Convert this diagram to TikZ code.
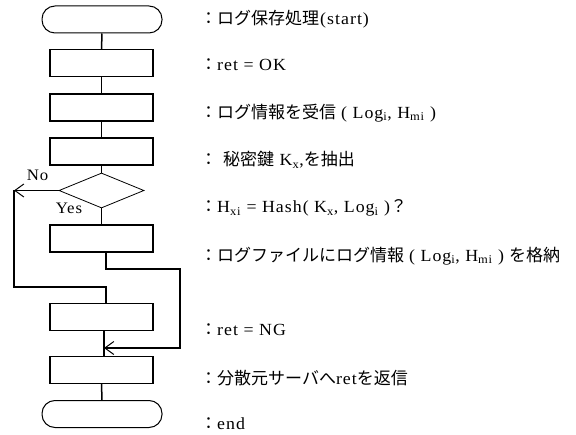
\documentclass[tikz,border=0pt]{standalone}
\usepackage{fontspec}
\setmainfont{Liberation Serif}[FakeStretch=1.05,LetterSpace=6]
\newfontfamily\jp{Noto Sans CJK JP}
\usetikzlibrary{shapes.geometric,arrows.meta}
\begin{document}
\begin{tikzpicture}[x=1bp,y=-1bp,
  term/.style={draw,line width=1bp,rounded corners=13bp,minimum width=120bp,minimum height=27bp,inner sep=0pt},
  proc/.style={draw,line width=1.2bp,minimum width=103bp,minimum height=27bp,inner sep=0pt},
  dec/.style={draw,line width=0.8bp,diamond,aspect=2.4,minimum width=85bp,minimum height=35bp,inner sep=0pt},
  conn/.style={line width=1.5bp},
  arr/.style={line width=1.5bp,-{Straight Barb[length=9bp,width=13bp,line width=1bp]}},
  lbl/.style={anchor=west,font=\fontsize{17bp}{19bp}\selectfont,inner sep=0pt},
  yn/.style={font=\fontsize{16bp}{18bp}\selectfont,inner sep=0pt}]
\useasboundingbox (0,0) rectangle (576,435);
\node[term] (t1) at (102,19.5) {};
\node[proc] (b1) at (101.5,63) {};
\node[proc] (b2) at (101.5,107.5) {};
\node[proc] (b3) at (101.5,151.5) {};
\node[dec]  (d)  at (101.5,190.5) {};
\node[proc] (b5) at (101.5,238.5) {};
\node[proc] (b4) at (101.5,317) {};
\node[proc] (b6) at (101.5,370) {};
\node[term] (t2) at (102,414) {};
\draw[conn] (t1) -- (b1);
\draw[conn] (b1) -- (b2);
\draw[conn] (b2) -- (b3);
\draw[conn] (b3) -- (d);
\draw[conn] (d) -- (b5);
\coordinate (nc) at (14,190.5);
\coordinate (nd) at (14,287);
\coordinate (ne) at (106,287);
\draw[arr] (d.west) -- (nc);
\draw[conn] (nc) -- (nd) -- (ne) -- (ne |- b4.north);
\coordinate (ya) at (106,269);
\coordinate (yb) at (180,269);
\coordinate (yc) at (180,348);
\coordinate (yd) at (104,348);
\draw[conn] (b5.south -| ya) -- (ya) -- (yb) -- (yc) -- (yd);
\draw[arr] (yc) -- (yd);
\draw[conn] (b4.south -| yd) -- (b6.north -| yd);
\draw[conn] (b6) -- (t2);
\node[yn] (no) at (37.5,175) {No};
\node[yn] (yes) at (69,208.5) {Yes};
\node[lbl] (l1) at (200,19) {{\jp ：ログ保存処理}\hspace{1bp}(start)};
\node[lbl] (l2) at (200,65) {{\jp ：}ret = OK};
\node[lbl] (l3) at (200,113) {{\jp ：ログ情報を受信}\hspace{5bp}( Log\textsubscript{i}, H\textsubscript{mi} )};
\node[lbl] (l4) at (200,160) {{\jp ：}\hspace{6bp}{\jp 秘密鍵} K\textsubscript{x},{\jp を抽出}};
\node[lbl] (l5) at (200,208) {{\jp ：}H\textsubscript{xi} = Hash( K\textsubscript{x}, Log\textsubscript{i} ){\jp ？}};
\node[lbl] (l6) at (200,256) {{\jp ：ログファイルにログ情報}\hspace{5bp}( Log\textsubscript{i}, H\textsubscript{mi} )\hspace{5bp}{\jp を格納}};
\node[lbl] (l7) at (200,330) {{\jp ：}ret = NG};
\node[lbl] (l8) at (200,378) {{\jp ：分散元サーバへ}ret{\jp を返信}};
\node[lbl] (l9) at (200,424) {{\jp ：}end};
\end{tikzpicture}
\end{document}
